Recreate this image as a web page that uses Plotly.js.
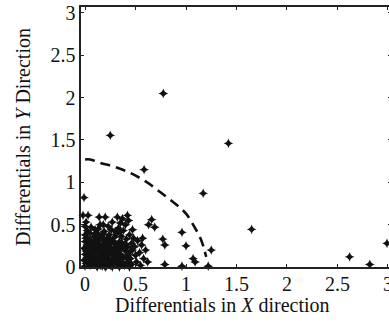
<!DOCTYPE html>
<html>
<head>
<meta charset="utf-8">
<script src="https://cdn.plot.ly/plotly-3.0.1.min.js"></script>
<style>
html,body{margin:0;padding:0;overflow:hidden;background:#fff;}
#chart{width:400px;height:324px;}
</style>
</head>
<body>
<div id="chart"></div>
<script>
// Scatter points (differentials in X, differentials in Y)
const pointsX = [
  0.0,0.01,-0.01,0.02,0.0,0.01,-0.01,0.02,0.0,0.01,0.0,0.02,0.0,0.01,-0.02,0.03,-0.01,
  0.05,0.06,0.04,0.07,0.05,0.08,0.06,0.09,0.05,0.08,0.09,0.1,0.07,0.1,0.06,
  0.11,0.12,0.13,0.11,0.14,0.12,0.15,0.14,0.16,0.15,0.16,0.13,0.15,0.14,
  0.18,0.17,0.19,0.18,0.2,0.17,0.19,0.21,0.22,0.21,0.23,0.22,0.2,0.23,0.18,
  0.25,0.24,0.26,0.25,0.27,0.24,0.26,0.28,0.29,0.28,0.3,0.29,0.27,0.3,
  0.32,0.31,0.33,0.32,0.34,0.31,0.33,0.35,0.36,0.35,0.37,0.36,0.32,0.35,0.37,
  0.39,0.38,0.4,0.39,0.41,0.38,0.42,0.43,0.42,0.44,0.4,0.42,0.43,
  0.46,0.45,0.47,0.46,0.48,0.5,0.49,0.51,0.52,0.47,
  0.55,0.54,0.56,0.58,0.6,0.57,0.62,
  0.03,0.12,0.2,0.27,0.34,0.44,0.07,0.16,0.24,0.31,0.03,0.1,0.2,0.26,0.13,0.36,0.08,
  0.04,0.09,0.14,0.19,0.24,0.29,0.06,0.11,0.17,0.22,0.27,0.02,0.13,0.21,0.3,
  0.02,0.05,0.08,0.12,0.15,0.19,0.23,0.26,0.3,0.33,0.37,0.4,0.03,0.07,0.1,0.17,0.21,0.25,0.28,0.34,0.38,0.41,0.45,0.04,0.09,0.14,0.18,0.23,0.31,0.35,
  0.63,0.66,0.69,0.77,0.79,0.79,0.96,1.0,0.96,1.07,1.09,1.22,1.25,
  0.585,1.17,0.25,0.775,1.42,1.65,2.62,2.82,2.99
];
const pointsY = [
  0.01,0.04,0.08,0.11,0.15,0.19,0.22,0.26,0.3,0.34,0.38,0.43,0.48,0.53,0.61,0.61,0.82,
  0.02,0.07,0.13,0.17,0.21,0.25,0.31,0.36,0.4,0.03,0.1,0.19,0.28,0.44,0.47,
  0.05,0.12,0.22,0.29,0.33,0.4,0.02,0.08,0.15,0.26,0.37,0.45,0.5,0.59,
  0.04,0.11,0.18,0.24,0.3,0.35,0.42,0.07,0.14,0.21,0.27,0.34,0.59,0.48,0.5,
  0.02,0.09,0.17,0.23,0.31,0.38,0.44,0.05,0.12,0.2,0.27,0.35,0.53,0.42,
  0.03,0.1,0.16,0.24,0.3,0.39,0.46,0.07,0.14,0.22,0.28,0.36,0.59,0.52,0.57,
  0.02,0.11,0.19,0.26,0.33,0.43,0.06,0.15,0.24,0.38,0.5,0.61,0.55,
  0.03,0.1,0.2,0.28,0.34,0.14,0.24,0.06,0.31,0.44,
  0.02,0.17,0.26,0.1,0.2,0.34,0.06,
  0.06,0.0,0.0,0.0,0.0,0.0,0.14,0.21,0.15,0.19,0.24,0.32,0.12,0.28,0.27,0.09,0.21,
  0.16,0.05,0.18,0.09,0.06,0.16,0.23,0.26,0.01,0.19,0.09,0.35,0.36,0.01,0.07,
  0.09,0.29,0.16,0.37,0.1,0.28,0.04,0.19,0.13,0.2,0.04,0.27,0.33,0.23,0.39,0.33,0.06,0.32,0.16,0.12,0.23,0.11,0.19,0.18,0.3,0.06,0.39,0.33,0.24,0.42,
  0.5,0.56,0.47,0.33,0.26,0.03,0.41,0.25,0.01,0.1,0.06,0.01,0.2,
  1.15,0.87,1.555,2.05,1.46,0.445,0.12,0.03,0.28
];
// Dashed boundary curve
const curveX = [0.0,0.05,0.15,0.3,0.45,0.6,0.75,0.9,1.0,1.08,1.15,1.2];
const curveY = [1.27,1.27,1.23,1.18,1.11,1.01,0.88,0.74,0.63,0.48,0.32,0.12];
const tickVals = [0,0.5,1,1.5,2,2.5,3];
const tickText = ['0','0.5','1','1.5','2','2.5','3'];

const font = {family:'"Liberation Serif", "Times New Roman", serif', size:20, color:'#111'};
const titleFont = {family:'"Liberation Serif", "Times New Roman", serif', size:20, color:'#111'};

const traces = [
  {
    x: pointsX, y: pointsY, type:'scatter', mode:'markers',
    marker:{symbol:'star-diamond', size:7, color:'#111', line:{width:0}},
    cliponaxis:false, hoverinfo:'skip'
  },
  {
    x: curveX, y: curveY, type:'scatter', mode:'lines',
    line:{color:'#111', width:2.6, dash:'10px,6px', shape:'spline'},
    hoverinfo:'skip'
  }
];

const axisCommon = {
  showgrid:false, zeroline:false, showline:true, mirror:'allticks',
  linecolor:'#222', linewidth:1.6, ticks:'inside', ticklen:3, tickwidth:1,
  tickcolor:'#222', tickvals:tickVals, ticktext:tickText, tickfont:font,
  automargin:false
};

const layout = {
  width:400, height:324,
  margin:{l:81, r:9, t:7, b:57},
  paper_bgcolor:'#fff', plot_bgcolor:'#fff',
  showlegend:false,
  font:font,
  xaxis: Object.assign({}, axisCommon, {
    range:[-0.04, 3.03],
    ticklabelstandoff:-2
  }),
  yaxis: Object.assign({}, axisCommon, {
    range:[0, 3.07],
    title:{text:'Differentials in <i>Y</i> Direction', font:titleFont, standoff:14}
  }),
  annotations:[{
    text:'Differentials in <i>X</i> direction', font:titleFont, showarrow:false,
    xref:'paper', yref:'paper', x:0.458, y:-0.148, xanchor:'center', yanchor:'middle'
  }]
};

Plotly.newPlot('chart', traces, layout, {staticPlot:true, displayModeBar:false});
</script>
</body>
</html>
